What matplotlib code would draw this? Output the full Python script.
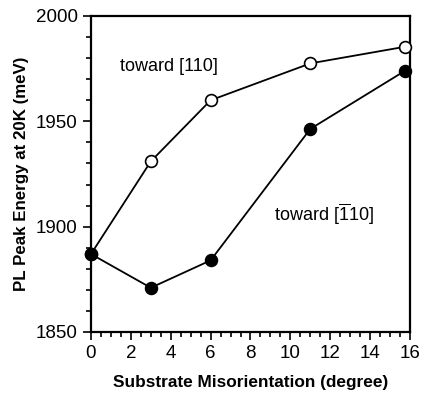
import matplotlib
matplotlib.use("Agg")
import matplotlib.pyplot as plt
from matplotlib.ticker import MultipleLocator

plt.rcParams['font.family'] = ['Liberation Sans', 'DejaVu Sans']
plt.rcParams['mathtext.fontset'] = 'custom'
plt.rcParams['mathtext.rm'] = 'Liberation Sans'

misorientation = [0, 3, 6, 11, 15.75]
energy_110 = [1887, 1931, 1960, 1977.5, 1985.4]
energy_m110 = [1887, 1871, 1884, 1946.4, 1974]
label_110 = "toward [110]"
label_m110 = r"toward [$\overline{\mathrm{1}}$10]"

fig = plt.figure(figsize=(4.22, 3.96), dpi=100)
ax = fig.add_axes([91/422, 1-332/396, (410-91)/422, (332-16)/396])

ax.plot(misorientation, energy_110, '-o', color='black', mfc='white', mec='black',
        ms=8.5, mew=1.2, lw=1.3, clip_on=False, zorder=3)
ax.plot(misorientation, energy_m110, '-o', color='black', mfc='black', mec='black',
        ms=8.5, mew=1.2, lw=1.3, clip_on=False, zorder=3)

ax.set_xlim(0, 16)
ax.set_ylim(1850, 2000)
ax.xaxis.set_major_locator(MultipleLocator(2))
ax.xaxis.set_minor_locator(MultipleLocator(0.5))
ax.yaxis.set_major_locator(MultipleLocator(50))
ax.yaxis.set_minor_locator(MultipleLocator(10))
ax.tick_params(which='both', direction='out', top=False, right=False, labelsize=13.5, width=1.2)
ax.tick_params(which='major', length=6)
ax.tick_params(which='minor', length=3.5)
for s in ax.spines.values():
    s.set_linewidth(1.6)

ax.set_xlabel("Substrate Misorientation (degree)", fontsize=12.4, fontweight='bold', labelpad=9)
ax.set_ylabel("PL Peak Energy at 20K (meV)", fontsize=12.2, fontweight='bold', labelpad=5)

ax.text(1.45, 1976, label_110, fontsize=13, ha='left', va='center')
ax.text(9.2, 1906, label_m110, fontsize=13, ha='left', va='center')

fig.savefig("out.png", dpi=100)
